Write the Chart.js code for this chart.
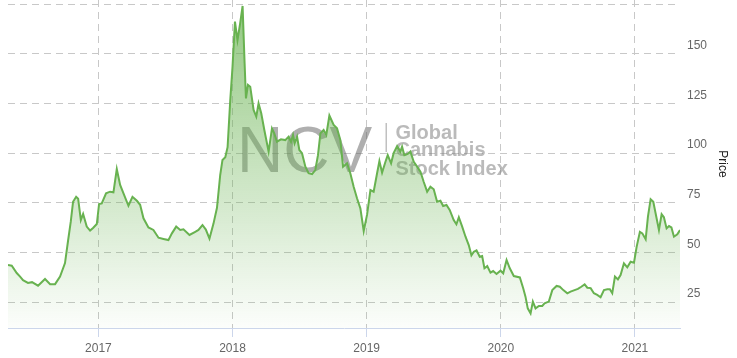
<!DOCTYPE html>
<html><head><meta charset="utf-8">
<script src="https://cdn.jsdelivr.net/npm/chart.js@4.4.1/dist/chart.umd.min.js"></script>
<style>html,body{margin:0;padding:0;background:#fff;overflow:hidden;}</style>
</head><body>
<canvas id="c" width="737" height="358" style="display:block;width:737px;height:358px"></canvas>
<script>
// decimal-year time stamps and index price
const years = [
2016.326,2016.354,2016.391,2016.416,2016.438,2016.475,2016.505,2016.550,2016.602,2016.640,
2016.677,2016.714,2016.751,2016.774,2016.794,2016.811,2016.834,2016.849,2016.869,2016.886,
2016.913,2016.938,2016.960,2016.988,2017.005,2017.025,2017.057,2017.087,2017.112,2017.137,
2017.162,2017.187,2017.224,2017.254,2017.287,2017.311,2017.336,2017.373,2017.410,2017.448,
2017.485,2017.522,2017.548,2017.580,2017.610,2017.634,2017.679,2017.722,2017.746,2017.776,
2017.801,2017.828,2017.858,2017.884,2017.908,2017.925,2017.946,2017.963,2017.983,2018.000,
2018.018,2018.037,2018.057,2018.075,2018.090,2018.100,2018.115,2018.132,2018.157,2018.177,
2018.194,2018.214,2018.237,2018.269,2018.294,2018.311,2018.331,2018.361,2018.393,2018.418,
2018.436,2018.451,2018.463,2018.481,2018.498,2018.518,2018.543,2018.567,2018.593,2018.617,
2018.637,2018.655,2018.679,2018.699,2018.722,2018.754,2018.779,2018.804,2018.824,2018.854,
2018.878,2018.903,2018.928,2018.953,2018.978,2019.003,2019.028,2019.052,2019.078,2019.095,
2019.115,2019.140,2019.157,2019.182,2019.201,2019.227,2019.251,2019.264,2019.281,2019.306,
2019.326,2019.351,2019.376,2019.401,2019.425,2019.451,2019.475,2019.500,2019.525,2019.550,
2019.570,2019.595,2019.619,2019.649,2019.669,2019.687,2019.712,2019.737,2019.761,2019.781,
2019.799,2019.819,2019.843,2019.861,2019.878,2019.899,2019.923,2019.943,2019.968,2019.998,
2020.018,2020.043,2020.067,2020.097,2020.142,2020.167,2020.184,2020.201,2020.222,2020.239,
2020.259,2020.284,2020.309,2020.326,2020.358,2020.384,2020.416,2020.440,2020.466,2020.496,
2020.520,2020.550,2020.575,2020.600,2020.625,2020.645,2020.670,2020.694,2020.719,2020.744,
2020.769,2020.794,2020.813,2020.831,2020.851,2020.873,2020.893,2020.918,2020.943,2020.968,
2020.993,2021.013,2021.037,2021.055,2021.080,2021.097,2021.117,2021.137,2021.154,2021.179,
2021.199,2021.216,2021.236,2021.254,2021.272,2021.291,2021.316,2021.336
];
const prices = [
43.6,43.3,39.6,37.8,36,34.6,35,33.2,36.6,34,
34,37.8,44.6,56,65.5,75.5,78,77,66.3,69.4,
63,61,62.3,64.3,74.4,74.7,79.8,80.6,80.3,92,
84,79.8,73.5,78,76,74,67.2,62.6,61.3,57.4,
56.8,56.2,59.6,63,61.3,61.6,58.8,60.4,61.3,63.8,
61.5,57,64.5,72.5,89,96.6,98,103,126.8,143.6,
166.3,157,165.5,174.2,145.3,127.6,134.4,133.5,121.8,118.4,
125.1,120.1,111.7,100.8,112.5,110,105.8,107,106.6,108.3,
105.8,109.2,105,108.3,101.6,100,93.2,89.9,89.5,91.5,
99,110,111.7,109.2,119,114.2,112.5,106.6,93.2,94.9,
89.9,83.1,77.3,72.2,60.8,69,81.4,80.6,90,96,
90.2,95.7,99,94.9,100,103.6,100.8,103.3,99,99.6,
100.8,95.7,93.2,90.7,85.6,80.6,83.1,81.8,75.5,76,
73.4,73.9,71.4,66.3,64.2,67.7,63,57.9,53.7,48.5,
50.3,51,47.8,48.2,42,43.1,39.8,40.6,39.1,40.8,
39.5,46.2,42,38.1,37.4,31.9,27.7,21.8,19.3,25.2,
21.8,23,23,24.3,25.2,31,33.1,32.7,31,29.4,
30.2,31,31.6,32.7,33.9,32.2,32,29.4,28.6,27.4,
31,31.4,31.4,29.4,37.8,36.4,38.6,44.5,42.5,45.3,
44.8,52.9,60.4,59.6,56.6,68,76.8,75.5,69.7,61.3,
69.2,67.7,62.1,63.3,62.6,57.9,59.1,61.3
];
const xTickYears = [2017, 2018, 2019, 2020, 2021];
const yTickValues = [25, 50, 75, 100, 125, 150, 175];
const xRange = [2016.326, 2021.336];
const yRange = [11.9, 177.2];
const axisTitle = 'Price';
const wmMain = 'NCV';
const wmLines = ['Global', 'Cannabis', 'Stock Index'];

const points = years.map((t, i) => ({x: t, y: prices[i]}));
const FONT = '"Liberation Sans", Arial, sans-serif';

const watermark = {
  id: 'watermark',
  beforeDatasetsDraw(chart) {
    const ctx = chart.ctx;
    ctx.save();
    ctx.textBaseline = 'alphabetic';
    ctx.textAlign = 'left';
    ctx.fillStyle = 'rgba(95,95,95,0.5)';
    ctx.font = '64px ' + FONT;
    ctx.fillText(wmMain, 237, 172);
    ctx.fillStyle = 'rgba(140,140,140,0.55)';
    ctx.fillRect(385.5, 123, 1.5, 29);
    ctx.fillStyle = 'rgba(130,130,130,0.55)';
    ctx.font = 'bold 20px ' + FONT;
    const base = [138.5, 156, 174.5];
    wmLines.forEach((s, i) => ctx.fillText(s, 395.5, base[i]));
    ctx.restore();
  }
};

new Chart(document.getElementById('c'), {
  type: 'line',
  data: {
    datasets: [{
      data: points,
      borderColor: 'rgb(104,178,80)',
      borderWidth: 2,
      pointRadius: 0,
      tension: 0,
      fill: 'start',
      backgroundColor: (c) => {
        const a = c.chart.chartArea;
        if (!a) return 'rgba(104,178,80,0.3)';
        const g = c.chart.ctx.createLinearGradient(0, a.top, 0, a.bottom);
        g.addColorStop(0, 'rgba(104,178,80,0.72)');
        g.addColorStop(1, 'rgba(104,178,80,0.02)');
        return g;
      }
    }]
  },
  options: {
    responsive: false,
    animation: false,
    devicePixelRatio: 1,
    layout: {padding: {left: 8, top: 0, right: 0, bottom: 0}},
    plugins: {legend: {display: false}, tooltip: {enabled: false}},
    scales: {
      x: {
        type: 'linear',
        min: xRange[0], max: xRange[1],
        afterBuildTicks: (s) => { s.ticks = xTickYears.map(v => ({value: v})); },
        afterFit: (s) => { s.height = 30; s.paddingLeft = 0; s.paddingRight = 0; },
        ticks: {
          callback: (v) => String(v),
          color: '#666', font: {family: FONT, size: 12}, padding: 4,
          maxRotation: 0, autoSkip: false
        },
        grid: {
          color: '#c8c8c8', borderDash: [7, 5], drawTicks: true, tickLength: 9,
          tickColor: '#ccd6eb', tickBorderDash: []
        },
        border: {display: true, color: '#ccd6eb', width: 1, dash: [7,5]}
      },
      y: {
        type: 'linear',
        position: 'right',
        min: yRange[0], max: yRange[1],
        afterBuildTicks: (s) => { s.ticks = yTickValues.map(v => ({value: v})); },
        afterFit: (s) => { s.width = 57; s.paddingTop = 0; s.paddingBottom = 0; },
        ticks: {
          callback: (v) => String(v),
          color: '#666', font: {family: FONT, size: 12}, padding: 7, labelOffset: -8
        },
        grid: {color: '#c8c8c8', borderDash: [7, 5], drawTicks: false},
        border: {display: false, dash: [7,5]},
        title: {display: true, text: axisTitle, color: '#222', font: {family: FONT, size: 12}, padding: {top: 7, bottom: 0}}
      }
    }
  },
  plugins: [watermark]
});
</script>
</body></html>
